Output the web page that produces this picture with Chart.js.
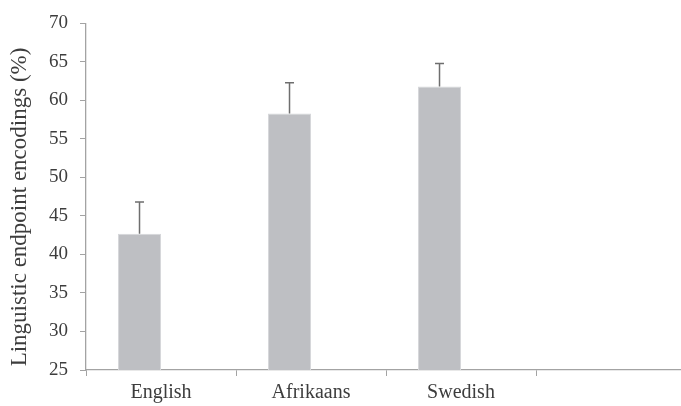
<!DOCTYPE html>
<html>
<head>
<meta charset="utf-8">
<script src="https://cdn.jsdelivr.net/npm/chart.js@4"></script>
<style>
  html, body { margin: 0; padding: 0; background: #fff; overflow: hidden; }
  canvas { display: block; }
</style>
</head>
<body>
<canvas id="encodingChart" width="687" height="406"></canvas>
<script>
// data
const languages = ['English', 'Afrikaans', 'Swedish', ''];
const meanEncodings = [42.7, 58.3, 61.8, null];
const errorTops = [46.8, 62.3, 64.8, null];
const yTicks = [25, 30, 35, 40, 45, 50, 55, 60, 65, 70];
const yTitle = 'Linguistic endpoint encodings (%)';

const serif = '"Liberation Serif", serif';
const textColor = '#3d3d3d';
const axisColor = '#a3a3a3';

// upper error whiskers
const errorBars = {
    id: 'errorBars',
    afterDatasetsDraw(chart) {
        const ctx = chart.ctx;
        const meta = chart.getDatasetMeta(0);
        const y = chart.scales.y;
        ctx.save();
        ctx.strokeStyle = '#6e6e6e';
        ctx.lineWidth = 1.5;
        meta.data.forEach((bar, i) => {
            if (errorTops[i] == null) return;
            const x = bar.x;
            const top = y.getPixelForValue(errorTops[i]);
            const base = y.getPixelForValue(meanEncodings[i]);
            ctx.beginPath();
            ctx.moveTo(x, base);
            ctx.lineTo(x, top);
            ctx.moveTo(x - 4.5, top);
            ctx.lineTo(x + 4.5, top);
            ctx.stroke();
        });
        ctx.restore();
    }
};

// rotated y title, drawn by hand so it sits where the figure has it
const axisTitle = {
    id: 'axisTitle',
    afterDraw(chart) {
        const ctx = chart.ctx;
        ctx.save();
        ctx.translate(20, 207);
        ctx.rotate(-Math.PI / 2);
        ctx.font = '23px ' + serif;
        ctx.fillStyle = textColor;
        ctx.textAlign = 'center';
        ctx.textBaseline = 'middle';
        ctx.fillText(yTitle, 0, 0);
        ctx.restore();
    }
};

const ctx = document.getElementById('encodingChart').getContext('2d');
const chart = new Chart(ctx, {
    type: 'bar',
    data: {
        labels: languages,
        datasets: [{
            data: meanEncodings,
            backgroundColor: '#bebfc3',
            borderColor: '#d6d7da',
            borderWidth: { left: 1, right: 1, top: 1, bottom: 0 },
            categoryPercentage: 0.573,
            barPercentage: 1
        }, {
            data: [null, null, null, null],
            categoryPercentage: 0.573,
            barPercentage: 1
        }]
    },
    options: {
        responsive: false,
        animation: false,
        layout: { padding: { top: 15, right: 1, left: 0, bottom: 0 } },
        plugins: {
            legend: { display: false },
            tooltip: { enabled: false }
        },
        scales: {
            x: {
                offset: true,
                grid: {
                    offset: true,
                    drawOnChartArea: false,
                    drawTicks: true,
                    tickLength: 6,
                    color: axisColor
                },
                border: { color: axisColor, width: 1.3 },
                ticks: {
                    color: textColor,
                    font: { family: serif, size: 20 },
                    padding: 5,
                    maxRotation: 0
                },
                afterFit(scale) { scale.height = 36; }
            },
            y: {
                min: 25,
                max: 70,
                afterBuildTicks(scale) {
                    scale.ticks = yTicks.map(v => ({ value: v }));
                },
                grid: {
                    drawOnChartArea: false,
                    drawTicks: true,
                    tickLength: 6,
                    color: axisColor
                },
                border: { color: axisColor, width: 1.3 },
                ticks: {
                    color: textColor,
                    font: { family: serif, size: 19 },
                    padding: 12
                },
                afterFit(scale) { scale.width = 86; }
            }
        }
    },
    plugins: [errorBars, axisTitle]
});
</script>
</body>
</html>
